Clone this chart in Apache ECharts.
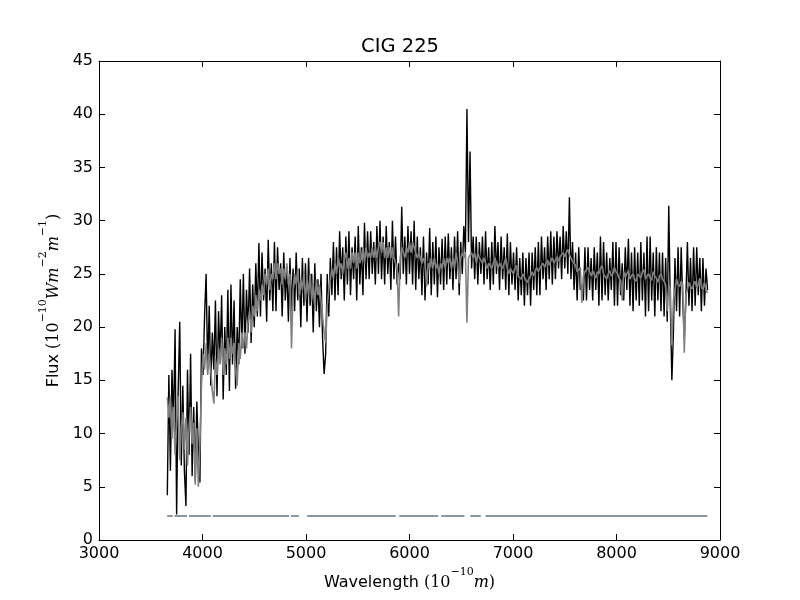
<!DOCTYPE html>
<html>
<head>
<meta charset="utf-8">
<script src="https://cdn.jsdelivr.net/npm/echarts@6/dist/echarts.min.js"></script>
<style>
html,body{margin:0;padding:0;background:#fff;}
#chart{width:800px;height:600px;}
</style>
</head>
<body>
<div id="chart"></div>
<script>
// Wavelength grid (Angstrom)
const wavelength = [
  3660,3675,3690,3705,3720,3735,3750,3765,3780,3795,
  3810,3825,3840,3855,3870,3885,3900,3915,3930,3945,
  3960,3975,3990,4005,4020,4035,4050,4065,4080,4095,
  4110,4125,4140,4155,4170,4185,4200,4215,4230,4245,
  4260,4275,4290,4305,4320,4335,4350,4365,4380,4395,
  4410,4425,4440,4455,4470,4485,4500,4515,4530,4545,
  4560,4575,4590,4605,4620,4635,4650,4665,4680,4695,
  4710,4725,4740,4755,4770,4785,4800,4815,4830,4845,
  4860,4875,4890,4905,4920,4935,4950,4965,4980,4995,
  5010,5025,5040,5055,5070,5085,5100,5115,5130,5145,
  5160,5175,5190,5205,5220,5235,5250,5265,5280,5295,
  5310,5325,5340,5355,5370,5385,5400,5415,5430,5445,
  5460,5475,5490,5505,5520,5535,5550,5565,5580,5595,
  5610,5625,5640,5655,5670,5685,5700,5715,5730,5745,
  5760,5775,5790,5805,5820,5835,5850,5865,5880,5895,
  5910,5925,5940,5955,5970,5985,6000,6015,6030,6045,
  6060,6075,6090,6105,6120,6135,6150,6165,6180,6195,
  6210,6225,6240,6255,6270,6285,6300,6315,6330,6345,
  6360,6375,6390,6405,6420,6435,6450,6465,6480,6495,
  6510,6525,6540,6555,6570,6585,6600,6615,6630,6645,
  6660,6675,6690,6705,6720,6735,6750,6765,6780,6795,
  6810,6825,6840,6855,6870,6885,6900,6915,6930,6945,
  6960,6975,6990,7005,7020,7035,7050,7065,7080,7095,
  7110,7125,7140,7155,7170,7185,7200,7215,7230,7245,
  7260,7275,7290,7305,7320,7335,7350,7365,7380,7395,
  7410,7425,7440,7455,7470,7485,7500,7515,7530,7545,
  7560,7575,7590,7605,7620,7635,7650,7665,7680,7695,
  7710,7725,7740,7755,7770,7785,7800,7815,7830,7845,
  7860,7875,7890,7905,7920,7935,7950,7965,7980,7995,
  8010,8025,8040,8055,8070,8085,8100,8115,8130,8145,
  8160,8175,8190,8205,8220,8235,8250,8265,8280,8295,
  8310,8325,8340,8355,8370,8385,8400,8415,8430,8445,
  8460,8475,8490,8505,8520,8535,8550,8565,8580,8595,
  8610,8625,8640,8655,8670,8685,8700,8715,8730,8745,
  8760,8775,8790,8805,8820,8835,8850,8865,8880
];
// Observed flux (black)
const fluxObserved = [
  4.2,15.5,6.5,16,11,19.8,2.4,14,20.5,7,
  14.5,6.5,3.2,16,8,17.5,6,12.5,5.5,13,
  8.5,5.4,18,15.5,21,25,16,22,14.5,19.5,
  16,22.5,13.5,21.5,17,23,13.2,20,15.5,23.5,
  14,24,16.5,22.5,14.2,20,16.5,24.5,18,25,
  17.5,23.5,19.5,25.5,18.5,24,20,26,21,27.9,
  21,27,22.5,25.5,20.5,28.2,22.5,26,21.5,28,
  21.5,27.5,23.5,26,21,27,22.5,25.5,20.5,26.5,
  21.5,25.5,21.5,27,22.5,25.5,20,26.5,22,26,
  20.5,26.5,22,25,19.5,26,21.5,24.5,20,25,
  19,15.6,17.5,25,21,26.5,23,28,22.5,27.5,
  23,29,24.5,27.5,22.5,28.5,24,29,23,27.5,
  24.5,28.5,22.5,29.5,24,27.5,23,29.8,24.5,29,
  24.5,29,25,28,24,29.5,25,30,24.5,28.5,
  24,29.5,25,28,23.5,30,24.5,28.5,24,26,
  24.5,31.3,25,28.5,24,29.5,25,29,24,30,
  23.5,28.5,24.5,27.5,23,28.5,22.5,27,24,29.3,
  23,28,24,28.5,22.8,27.5,24,28.3,23.5,28.5,
  24,28.8,24.5,27.5,23.5,28.5,24.5,29,23,28,
  25,29.5,27,40.5,28,36.5,25.5,28.5,24.5,28.5,
  24,28,25,28.5,24,29,24.5,27.5,23.5,28,
  24,29.5,25,28,23.5,28.5,24.5,27.5,23.5,28.8,
  23,28,24,27,23.5,27.5,22.5,26.5,23,27,
  22,26.5,23,27,22,27,23.5,27.5,23,28,
  23,28.5,24.5,27.5,23.5,28.5,24.5,29,24,28.5,
  24.5,29,25.5,28.5,24.5,29.5,25.5,29,25,32.2,
  24.5,28,23.5,27,22.5,27.5,23.5,24,22.5,27.5,
  22.5,27.5,23.5,26.5,22.5,27.5,23.5,27,22,28.5,
  22.5,28,23,27,22.5,26.5,23.5,28,22,28,
  22,27.5,23,26,22.5,27.5,23.5,28.3,22,27,
  21.5,27.5,22.5,27,22,28,22.5,27,21,28.5,
  21.5,28.5,22.5,27,21,27.5,22.5,27,21.5,27,
  21,26.5,20.5,31.4,22,15,19.5,26.5,21.5,27.5,
  21,27.5,22.5,19,22.5,28,22,26.5,21.5,27.5,
  22,27.5,23,26.5,21.5,26.5,22,25.5,23.5
];
// Model / synthetic flux (grey)
const fluxModel = [
  13.4,11.5,13.5,9.5,12.5,8,11,13.5,7.5,10.5,
  12,8.5,11.5,7,10.5,12.5,9,11,5.2,10.5,
  5.0,9,14.5,17.5,16,18.5,15.5,17.5,16,14,
  12.8,17,15.5,18,16.5,19,15.5,18,16.5,19,
  17,19,17.5,18.5,16,14.5,18.5,17,19.5,18,
  19.5,18,20.5,21.5,19.5,22,21,23,21.5,23.5,
  22.5,24,23,25,24,25.5,23.5,25,24.5,26,
  24.5,26,25,25.5,24,25.5,24.5,26,24,25,
  18,23.5,25,24,25.5,23,24.5,23.5,25,22.5,
  24.5,23,25,22.5,24,22,24.5,23,24,22.5,
  21,19.5,18.5,22,23.5,24.5,25.5,24.5,26,25,
  26.5,25.5,26,25,26.5,27,25.5,26.5,25.5,27,
  26,27,25.5,27,26,26.5,27.5,26,27.5,26.5,
  27,26.5,27.5,26.5,27.5,26.5,27.5,28,27,28,
  26.5,27.5,26.5,27.5,26.5,27.5,26.5,26,25.5,21,
  26.5,27.5,27,26.5,27.5,27,28,27,28,27.5,
  27,26.5,27,26.5,26,26.5,26,23.8,26,25.5,
  26.5,25.5,26.5,25.5,26,25,26,25.5,26.5,25.5,
  26.5,26,26.5,25.5,26.5,25.5,27,26,24.1,26.5,
  27,26.5,27,20.4,26.5,26.5,27,26.5,27,26,
  27,26.5,26.5,26,26.5,26.5,25.5,26,26,25.5,
  25.5,26.5,26.5,25.5,26,26,25.5,26,26.5,25.5,
  25,25.5,25.5,25,25.5,25.8,24.8,24.8,24.5,25,
  25,24.4,24.2,24.6,24.8,25.2,24.8,25.3,25.6,25.2,
  25.2,25.8,26,25.6,26,26.3,25.8,26.2,26.5,26,
  26,26.6,26.2,26.6,26.8,27,26.6,27,27.3,26.8,
  26.8,26.2,26,25.8,25.2,25.4,25.6,22.3,24.8,25.2,
  25.2,25.6,25.2,24.8,25.3,25.3,24.6,25.2,25,25.5,
  25.8,25,25,24.5,25,25.3,24.8,25,25.6,25.2,
  25,24.6,24.4,22.5,25.2,24.7,25,25.3,24.5,24.8,
  25,24.5,24.3,25,24.8,24.6,25.2,25.4,24.5,24.8,
  25,24.6,24.4,25.2,24.8,24.6,24.2,24.8,25,24.5,
  24.3,24,21.5,24,23.5,18.3,22.5,23.5,24.5,24,
  23.8,24.3,24,17.6,23,23.5,24.2,23.8,23.6,24,
  24.3,23.7,24,24.6,23.8,23.5,24.2,23.5,23.2
];
// Mask segments [start, end] in Angstrom, drawn at a constant level
const maskSegments = [
  [3659,3712],[3729,3852],[3870,4081],[4098,4837],[4854,4931],
  [5011,5866],[5901,6278],[6306,6531],[6587,6689],[6735,8879]
];
const maskLevel = 2.25;
const xTicks = [3000, 9000, 1000];   // min, max, interval
const yTicks = [0, 45, 5];

const chart = echarts.init(document.getElementById('chart'), null, {renderer: 'canvas'});
const pairs = (xs, ys) => xs.map((x, i) => [x, ys[i]]);

const axisCommon = {
  type: 'value',
  axisLine: {show: true, onZero: false, lineStyle: {color: '#000', width: 1}},
  axisTick: {show: true, inside: true, length: 6, lineStyle: {color: '#000', width: 1}},
  splitLine: {show: false}
};
const labelStyle = {color: '#000', fontSize: 16, fontFamily: 'DejaVu Sans', formatter: v => String(v)};
const mathRich = {
  n: {fontFamily: 'DejaVu Sans', fontSize: 16, color: '#000', lineHeight: 24, verticalAlign: 'bottom'},
  m: {fontFamily: 'DejaVu Serif', fontSize: 16, color: '#000', lineHeight: 24, verticalAlign: 'bottom'},
  mi: {fontFamily: 'DejaVu Serif', fontStyle: 'italic', fontSize: 16, color: '#000', lineHeight: 24, verticalAlign: 'bottom'},
  s: {fontFamily: 'DejaVu Serif', fontSize: 11, color: '#000', lineHeight: 13, verticalAlign: 'top'}
};

const series = [
  {
    type: 'line', name: 'observed', data: pairs(wavelength, fluxObserved),
    showSymbol: false, symbol: 'none', sampling: 'none', lineStyle: {color: '#000', width: 1.4},
    xAxisIndex: 0, yAxisIndex: 0, z: 2
  },
  {
    type: 'line', name: 'model', data: pairs(wavelength, fluxModel),
    showSymbol: false, symbol: 'none', sampling: 'none', lineStyle: {color: '#808080', width: 1.6},
    xAxisIndex: 0, yAxisIndex: 0, z: 3
  }
];
maskSegments.forEach(seg => {
  series.push({
    type: 'line', data: [[seg[0], maskLevel], [seg[1], maskLevel]],
    showSymbol: false, symbol: 'none', lineStyle: {color: '#647480', width: 1.6},
    xAxisIndex: 0, yAxisIndex: 0, z: 4
  });
});

chart.setOption({
  animation: false,
  backgroundColor: '#fff',
  title: {
    text: 'CIG 225', left: 'center', top: 37, padding: 0,
    textStyle: {fontFamily: 'DejaVu Sans', fontSize: 19.5, fontWeight: 'normal', color: '#000'}
  },
  grid: {left: 99, right: 80, top: 61, bottom: 60, containLabel: false},
  xAxis: [
    Object.assign({}, axisCommon, {
      position: 'bottom', min: xTicks[0], max: xTicks[1], interval: xTicks[2],
      axisLabel: Object.assign({margin: 6}, labelStyle),
      name: '{n|Wavelength }{m|(10}{s|−10}{mi|m}{m|)}',
      nameLocation: 'middle', nameGap: 23,
      nameTextStyle: {rich: mathRich}
    }),
    Object.assign({}, axisCommon, {
      position: 'top', min: xTicks[0], max: xTicks[1], interval: xTicks[2],
      axisLabel: {show: false}
    })
  ],
  yAxis: [
    Object.assign({}, axisCommon, {
      position: 'left', min: yTicks[0], max: yTicks[1], interval: yTicks[2],
      axisLabel: Object.assign({margin: 6}, labelStyle),
      name: '{n|Flux }{m|(10}{s|−10}{mi|Wm}{s|−2}{mi|m}{s|−1}{m|)}',
      nameLocation: 'middle', nameGap: 31, nameRotate: 90,
      nameTextStyle: {rich: mathRich}
    }),
    Object.assign({}, axisCommon, {
      position: 'right', min: yTicks[0], max: yTicks[1], interval: yTicks[2],
      axisLabel: {show: false}
    })
  ],
  series: series
});
</script>
</body>
</html>
